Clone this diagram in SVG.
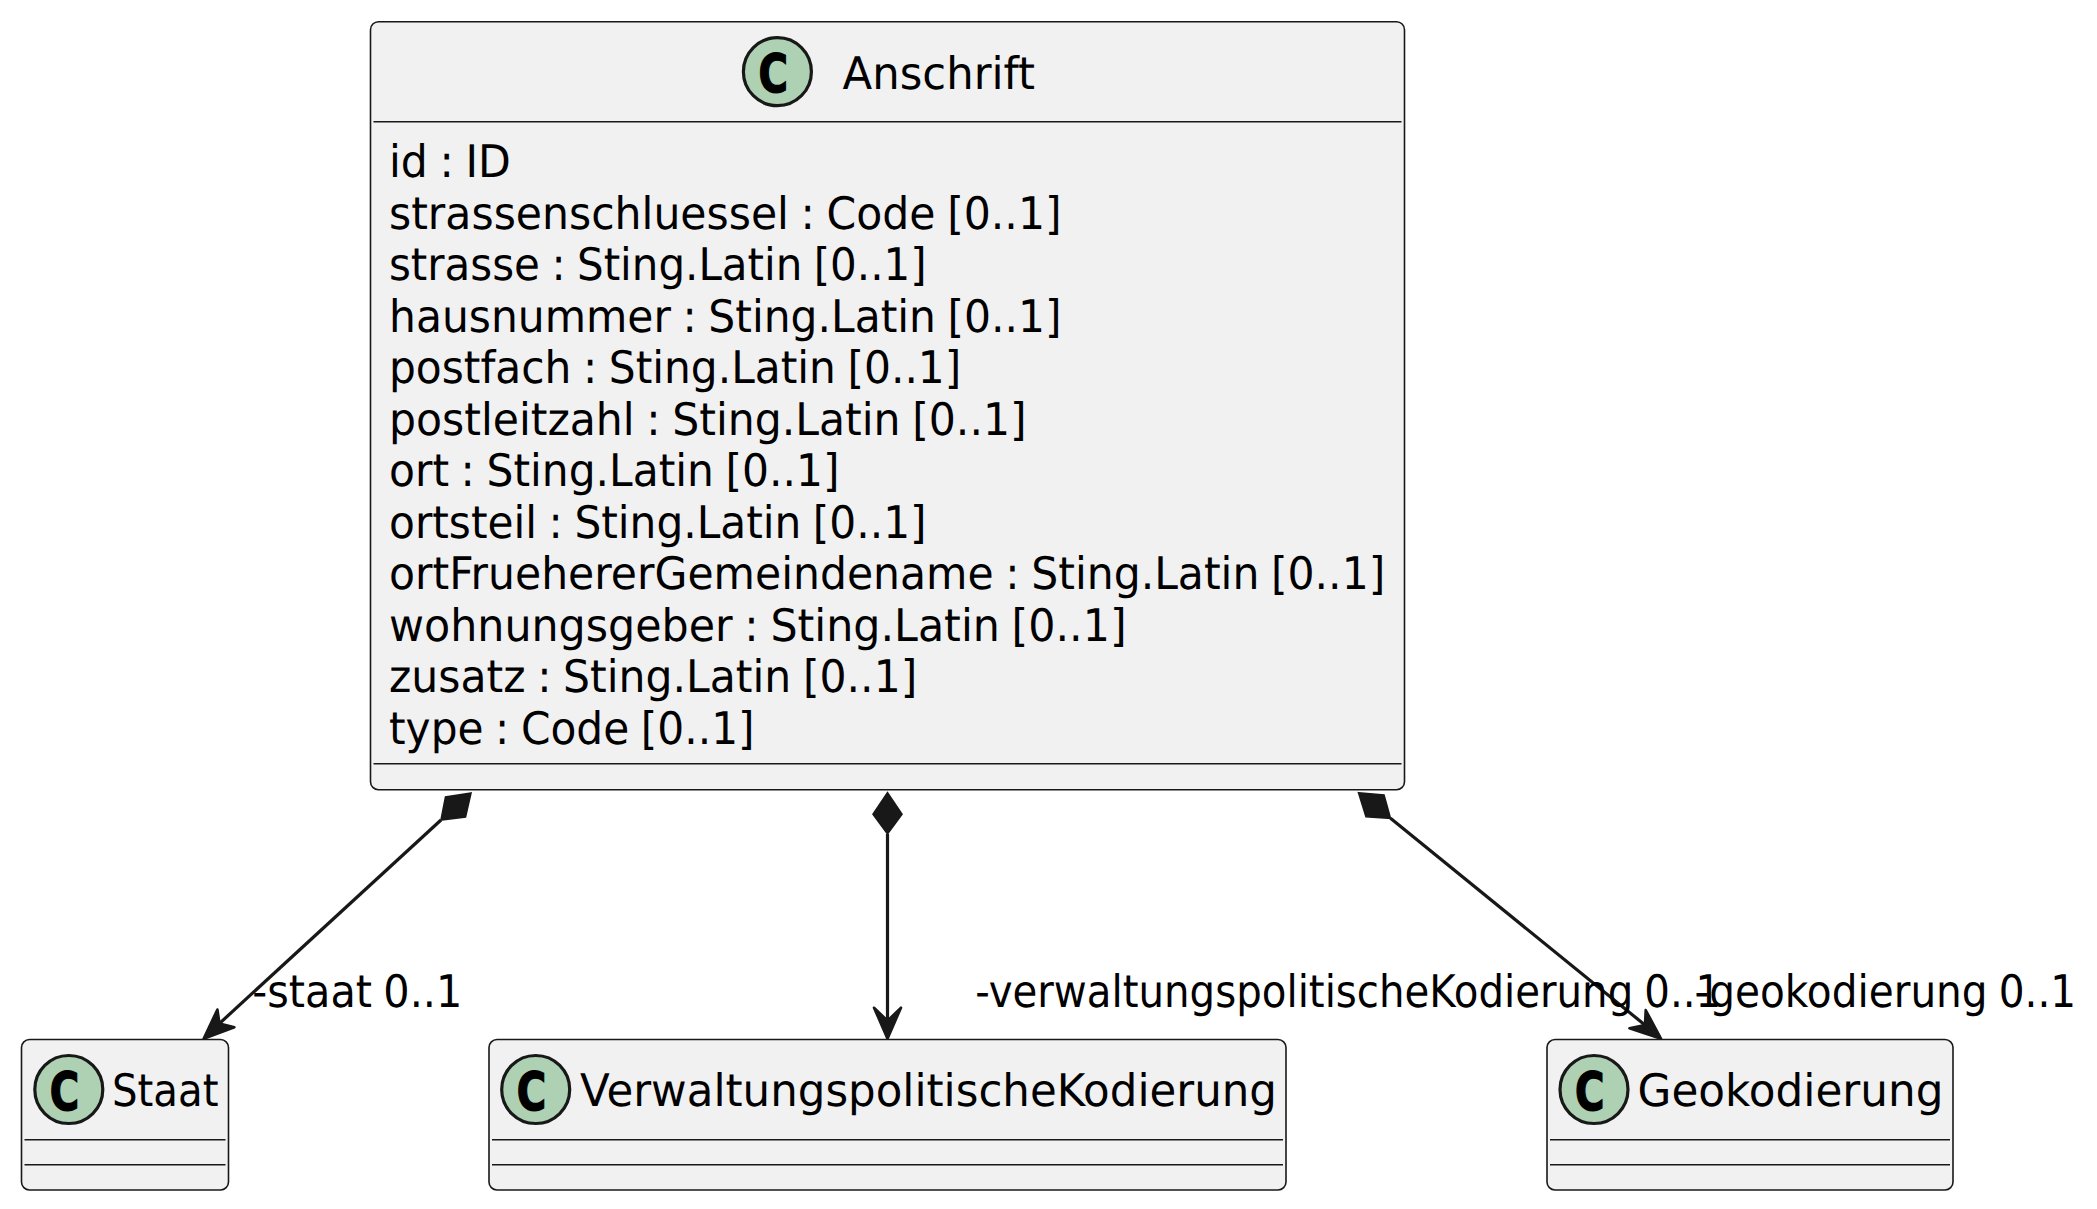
<svg xmlns="http://www.w3.org/2000/svg" width="2097" height="1209" viewBox="0 0 2097 1209">
<style>
.box{fill:#F1F1F1;stroke:#181818;stroke-width:1.6}
.sep{stroke:#181818;stroke-width:1.6;fill:none}
.spot{fill:#ADD1B2;stroke:#181818;stroke-width:3.2}
text{font-family:"DejaVu Sans",sans-serif;font-size:44.8px;fill:#000;text-rendering:geometricPrecision;word-spacing:-2px}
text.c{font-weight:700;font-size:53px;stroke:#000;stroke-width:1.5}
.edge{stroke:#181818;stroke-width:3.2;fill:none}
.head{fill:#181818;stroke:#181818;stroke-width:1.6}
.arrow{fill:#181818;stroke:#181818;stroke-width:2.6;stroke-linejoin:round}
</style>
<rect width="2097" height="1209" fill="#FFFFFF"/>
<g id="connectors">
<path class="edge" d="M441 820L208 1034"/>
<polygon class="head" points="471,793 445.500,797 441,820 465.500,817"/>
<polygon class="arrow" points="203.600,1038.700 217.400,1009.500 219.500,1023.500 234.400,1027.300"/>
<path class="edge" d="M887.500 834V1032"/>
<polygon class="head" points="887.500,792.700 902,814.300 887.500,834 873,814.300"/>
<polygon class="arrow" points="887.500,1038.700 874,1007.700 887.500,1020.700 901,1007.700"/>
<path class="edge" d="M1390.500 818.300L1656 1034"/>
<polygon class="head" points="1358.500,792.700 1384,795 1390.500,818.300 1366,816.700"/>
<polygon class="arrow" points="1661,1038.700 1645.700,1010 1645,1025 1629.400,1028.300"/>
<text x="252.300" y="1007" textLength="210" lengthAdjust="spacingAndGlyphs">-staat 0..1</text>
<text x="975.200" y="1007" textLength="746" lengthAdjust="spacingAndGlyphs">-verwaltungspolitischeKodierung 0..1</text>
<text x="1694.500" y="1007" textLength="381.700" lengthAdjust="spacingAndGlyphs">-geokodierung 0..1</text>
</g>
<g id="Anschrift">
<rect class="box" x="370.500" y="21.700" width="1034" height="768" rx="8"/>
<circle class="spot" cx="777.400" cy="71.700" r="34"/>
<text class="c" x="758.400" y="91.700" textLength="29.500" lengthAdjust="spacingAndGlyphs">C</text>
<text x="842.600" y="89" textLength="192.500" lengthAdjust="spacingAndGlyphs">Anschrift</text>
<path class="sep" d="M373.500 121.700H1401.500M373.500 763.700H1401.500"/>
<text x="389" y="177" textLength="121.800" lengthAdjust="spacingAndGlyphs">id : ID</text>
<text x="389" y="228.500" textLength="672.600" lengthAdjust="spacingAndGlyphs">strassenschluessel : Code [0..1]</text>
<text x="389" y="280" textLength="537.600" lengthAdjust="spacingAndGlyphs">strasse : Sting.Latin [0..1]</text>
<text x="389" y="331.500" textLength="672.600" lengthAdjust="spacingAndGlyphs">hausnummer : Sting.Latin [0..1]</text>
<text x="389" y="383" textLength="572.300" lengthAdjust="spacingAndGlyphs">postfach : Sting.Latin [0..1]</text>
<text x="389" y="434.500" textLength="637.600" lengthAdjust="spacingAndGlyphs">postleitzahl : Sting.Latin [0..1]</text>
<text x="389" y="486" textLength="450.600" lengthAdjust="spacingAndGlyphs">ort : Sting.Latin [0..1]</text>
<text x="389" y="537.500" textLength="537.600" lengthAdjust="spacingAndGlyphs">ortsteil : Sting.Latin [0..1]</text>
<text x="389" y="589" textLength="996.300" lengthAdjust="spacingAndGlyphs">ortFruehererGemeindename : Sting.Latin [0..1]</text>
<text x="389" y="640.500" textLength="737.600" lengthAdjust="spacingAndGlyphs">wohnungsgeber : Sting.Latin [0..1]</text>
<text x="389" y="692" textLength="528.300" lengthAdjust="spacingAndGlyphs">zusatz : Sting.Latin [0..1]</text>
<text x="389" y="743.500" textLength="365.600" lengthAdjust="spacingAndGlyphs">type : Code [0..1]</text>
</g>
<g id="Staat">
<rect class="box" x="21.500" y="1039.500" width="207" height="150.500" rx="8"/>
<circle class="spot" cx="68.800" cy="1089.500" r="34"/>
<text class="c" x="49.800" y="1109.500" textLength="29.500" lengthAdjust="spacingAndGlyphs">C</text>
<text x="112" y="1105.700" textLength="106.500" lengthAdjust="spacingAndGlyphs">Staat</text>
<path class="sep" d="M24.500 1139.700H225.500M24.500 1164.700H225.500"/>
</g>
<g id="VerwaltungspolitischeKodierung">
<rect class="box" x="489" y="1039.500" width="797" height="150.500" rx="8"/>
<circle class="spot" cx="535.700" cy="1089.500" r="34"/>
<text class="c" x="516.700" y="1109.500" textLength="29.500" lengthAdjust="spacingAndGlyphs">C</text>
<text x="580" y="1105.700" textLength="697" lengthAdjust="spacingAndGlyphs">VerwaltungspolitischeKodierung</text>
<path class="sep" d="M492 1139.700H1283M492 1164.700H1283"/>
</g>
<g id="Geokodierung">
<rect class="box" x="1547" y="1039.500" width="406" height="150.500" rx="8"/>
<circle class="spot" cx="1594" cy="1089.500" r="34"/>
<text class="c" x="1575" y="1109.500" textLength="29.500" lengthAdjust="spacingAndGlyphs">C</text>
<text x="1637.500" y="1105.700" textLength="306" lengthAdjust="spacingAndGlyphs">Geokodierung</text>
<path class="sep" d="M1550 1139.700H1950M1550 1164.700H1950"/>
</g>
</svg>
